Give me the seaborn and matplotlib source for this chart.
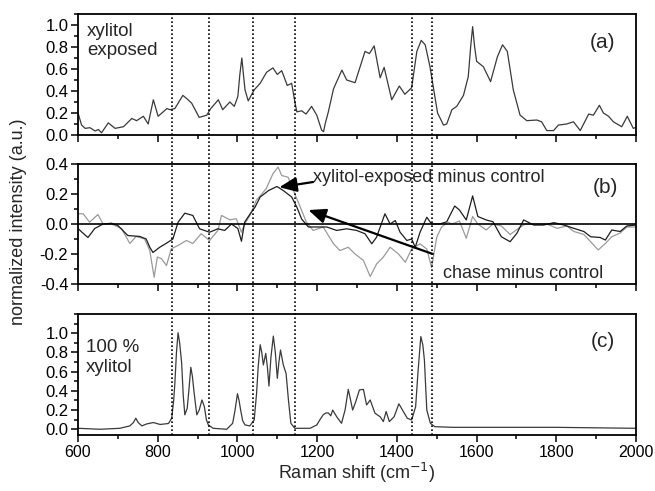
import matplotlib
matplotlib.use("Agg")
import matplotlib.pyplot as plt
import matplotlib.transforms as mtransforms
from matplotlib.lines import Line2D
from matplotlib.ticker import MultipleLocator, FormatStrFormatter
import seaborn as sns

# panel (a): xylitol exposed spectrum
a_x = [600, 609, 618, 630, 643, 651, 659, 676, 693, 714, 735, 747, 764, 776, 789, 801,
       823, 831, 843, 863, 873, 885, 904, 923, 933, 952, 963, 981, 992, 1001, 1006, 1011,
       1015, 1019, 1027, 1042, 1057, 1073, 1089, 1100, 1111, 1125, 1136, 1144, 1149, 1161,
       1172, 1186, 1199, 1211, 1216, 1220, 1228, 1241, 1262, 1274, 1295, 1320, 1331, 1343,
       1358, 1368, 1387, 1406, 1420, 1437, 1450, 1461, 1471, 1483, 1502, 1517, 1525, 1538,
       1550, 1567, 1579, 1585, 1590, 1595, 1600, 1617, 1635, 1652, 1665, 1677, 1692, 1709,
       1726, 1751, 1763, 1776, 1793, 1805, 1826, 1843, 1860, 1881, 1893, 1908, 1918, 1931,
       1943, 1964, 1978, 1993, 2000]
a_y = [0.20, 0.09, 0.06, 0.066, 0.036, 0.05, 0.02, 0.11, 0.06, 0.075, 0.15, 0.13, 0.17, 0.10,
       0.32, 0.17, 0.24, 0.23, 0.24, 0.36, 0.33, 0.29, 0.16, 0.18, 0.24, 0.32, 0.23, 0.30,
       0.26, 0.35, 0.55, 0.70, 0.55, 0.41, 0.31, 0.41, 0.47, 0.57, 0.61, 0.55, 0.585, 0.45,
       0.47, 0.30, 0.21, 0.22, 0.19, 0.26, 0.18, 0.045, 0.03, 0.10, 0.21, 0.42, 0.59, 0.50,
       0.475, 0.76, 0.74, 0.81, 0.52, 0.615, 0.32, 0.445, 0.37, 0.43, 0.76, 0.86, 0.82, 0.62,
       0.20, 0.09, 0.10, 0.23, 0.26, 0.36, 0.53, 0.80, 0.985, 0.80, 0.67, 0.62, 0.485, 0.71,
       0.82, 0.76, 0.41, 0.18, 0.13, 0.136, 0.12, 0.04, 0.04, 0.09, 0.10, 0.12, 0.04, 0.19,
       0.18, 0.27, 0.20, 0.17, 0.12, 0.075, 0.17, 0.06, 0.07]

# panel (b): difference spectra
b1_x = [600, 612, 625, 642, 663, 684, 700, 725, 755, 771, 780, 788, 805, 822, 838, 851, 868,
        888, 905, 930, 951, 968, 985, 1001, 1010, 1018, 1032, 1044, 1057, 1078, 1099, 1115,
        1136, 1149, 1161, 1178, 1199, 1224, 1249, 1274, 1299, 1320, 1337, 1349, 1370, 1383,
        1396, 1408, 1425, 1437, 1446, 1458, 1475, 1487, 1508, 1525, 1545, 1557, 1574, 1590,
        1603, 1624, 1641, 1662, 1684, 1701, 1718, 1743, 1768, 1794, 1819, 1844, 1869, 1886,
        1910, 1923, 1939, 1960, 1977, 2000]
b1_y = [-0.03, -0.06, -0.09, -0.03, 0.0, 0.005, -0.01, -0.077, -0.083, -0.10, -0.155, -0.19,
        -0.155, -0.128, -0.10, 0.012, 0.072, 0.057, -0.032, -0.055, -0.032, -0.043, 0.0, -0.03,
        -0.115, 0.012, 0.068, 0.112, 0.18, 0.223, 0.25, 0.223, 0.18, 0.112, 0.033, -0.02,
        -0.02, -0.02, -0.043, -0.032, -0.043, -0.065, -0.132, -0.088, 0.068, 0.0, 0.023,
        -0.055, -0.11, -0.10, -0.155, -0.055, 0.045, 0.0, 0.0, 0.015, 0.12, 0.093, 0.027,
        0.187, 0.05, 0.027, 0.015, -0.085, -0.118, -0.062, 0.027, -0.007, -0.007, 0.009,
        -0.007, -0.029, -0.05, -0.085, -0.09, -0.107, -0.04, -0.05, -0.013, -0.007]
b2_x = [600, 613, 629, 650, 663, 684, 709, 730, 746, 767, 780, 791, 799, 809, 822, 834, 851,
        872, 888, 909, 930, 951, 960, 981, 997, 1010, 1018, 1032, 1047, 1072, 1089, 1102,
        1111, 1127, 1144, 1161, 1173, 1190, 1215, 1241, 1257, 1278, 1295, 1316, 1333, 1349,
        1366, 1383, 1404, 1421, 1437, 1458, 1475, 1487, 1500, 1512, 1529, 1538, 1557, 1574,
        1590, 1603, 1624, 1641, 1662, 1684, 1705, 1722, 1751, 1776, 1802, 1826, 1844, 1869,
        1886, 1905, 1923, 1939, 1960, 1977, 2000]
b2_y = [0.068, 0.068, 0.012, 0.063, 0.0, 0.0, -0.03, -0.13, -0.083, -0.10, -0.177, -0.355,
        -0.22, -0.23, -0.277, -0.165, -0.143, -0.11, -0.13, -0.065, -0.11, -0.043, 0.057,
        0.028, 0.035, -0.055, 0.0, 0.06, 0.157, 0.235, 0.335, 0.38, 0.323, 0.312, 0.2, 0.09,
        0.012, -0.043, -0.02, -0.132, -0.177, -0.155, -0.2, -0.243, -0.35, -0.267, -0.22,
        -0.155, -0.2, -0.255, -0.167, -0.132, -0.167, -0.29, -0.088, -0.02, 0.012, 0.0, 0.02,
        -0.095, 0.05, 0.0, -0.04, 0.0, -0.013, -0.07, -0.029, 0.0, 0.0, 0.0, -0.029, -0.013,
        -0.05, -0.07, -0.118, -0.173, -0.13, -0.085, -0.06, -0.02, -0.02]

# panel (c): 100 % xylitol reference
c_x = [600, 655, 705, 730, 739, 745, 751, 760, 772, 789, 806, 827, 835, 840, 843, 847, 851,
       855, 860, 864, 868, 874, 878, 883, 887, 891, 898, 904, 911, 917, 922, 927, 939, 973,
       988, 994, 1000, 1004, 1008, 1013, 1019, 1031, 1042, 1048, 1052, 1057, 1061, 1065,
       1071, 1075, 1079, 1084, 1090, 1095, 1100, 1104, 1108, 1115, 1122, 1128, 1134, 1144,
       1182, 1199, 1207, 1215, 1222, 1228, 1234, 1239, 1249, 1261, 1270, 1278, 1284, 1289,
       1297, 1306, 1316, 1324, 1333, 1345, 1358, 1366, 1373, 1381, 1393, 1405, 1414, 1426,
       1437, 1447, 1453, 1460, 1465, 1469, 1475, 1484, 1495, 1541, 1700, 1800, 1900, 2000]
c_y = [0.01, 0.0, 0.01, 0.035, 0.07, 0.115, 0.07, 0.035, 0.055, 0.07, 0.05, 0.06, 0.115, 0.30,
       0.48, 0.80, 1.005, 0.90, 0.69, 0.35, 0.15, 0.22, 0.40, 0.645, 0.55, 0.39, 0.15, 0.20,
       0.305, 0.235, 0.10, 0.045, 0.01, 0.0, 0.062, 0.20, 0.37, 0.30, 0.2, 0.09, 0.045, 0.035,
       0.097, 0.375, 0.65, 0.88, 0.80, 0.67, 0.79, 0.65, 0.45, 0.75, 0.97, 0.80, 0.53, 0.70,
       0.825, 0.67, 0.58, 0.30, 0.062, 0.01, 0.01, 0.045, 0.10, 0.15, 0.17, 0.17, 0.14, 0.2,
       0.13, 0.062, 0.2, 0.415, 0.30, 0.2, 0.29, 0.41, 0.415, 0.253, 0.305, 0.167, 0.13, 0.08,
       0.185, 0.08, 0.13, 0.265, 0.2, 0.115, 0.097, 0.235, 0.60, 0.965, 0.88, 0.72, 0.2, 0.062,
       0.027, 0.02, 0.02, 0.02, 0.015, 0.01]

band_x = [837, 929, 1040, 1144, 1438, 1488]

sns.set_theme(style="ticks")
plt.rcParams['font.family'] = ['Liberation Sans', 'DejaVu Sans']

fig = plt.figure(figsize=(6.55, 4.91), dpi=100)
L, W = 0.1191, 0.852
ax_a = fig.add_axes([L, 0.7251, W, 0.2464])
ax_b = fig.add_axes([L, 0.4216, W, 0.2444])
ax_c = fig.add_axes([L, 0.114, W, 0.2465])

sns.lineplot(x=a_x, y=a_y, ax=ax_a, color='#3a3a3a', lw=0.9, sort=False)
sns.lineplot(x=b2_x, y=b2_y, ax=ax_b, color='#9a9a9a', lw=0.9, sort=False)
sns.lineplot(x=b1_x, y=b1_y, ax=ax_b, color='#1e1e1e', lw=0.9, sort=False)
sns.lineplot(x=c_x, y=c_y, ax=ax_c, color='#3a3a3a', lw=0.9, sort=False)
ax_b.axhline(0, color='black', lw=1.2)

ylims = {ax_a: (0, 1.1), ax_b: (-0.4, 0.4), ax_c: (-0.06, 1.2)}
for ax in (ax_a, ax_b, ax_c):
    ax.set_xlim(600, 2000)
    ax.set_ylim(*ylims[ax])
    ax.xaxis.set_major_locator(MultipleLocator(200))
    ax.xaxis.set_minor_locator(MultipleLocator(100))
    ax.yaxis.set_major_locator(MultipleLocator(0.2))
    ax.yaxis.set_minor_locator(MultipleLocator(0.1))
    ax.tick_params(which='both', direction='out', color='black', width=1.1,
                   labelcolor='black', pad=2)
    ax.tick_params(axis='x', labelsize=11.5)
    ax.tick_params(axis='y', labelsize=12)
    ax.tick_params(which='major', length=5)
    ax.tick_params(which='minor', length=3)
    for s in ax.spines.values():
        s.set_visible(True)
        s.set_color('black')
        s.set_linewidth(1.3)
    ax.set_xlabel('')
    ax.set_ylabel('')
    ax.yaxis.set_major_formatter(FormatStrFormatter('%.1f'))
for ax in (ax_a, ax_b):
    ax.tick_params(labelbottom=False)
ax_a.set_yticks([0.0, 0.2, 0.4, 0.6, 0.8, 1.0])
ax_c.set_yticks([0.0, 0.2, 0.4, 0.6, 0.8, 1.0])

# dotted band markers running through all three panels
trans = mtransforms.blended_transform_factory(ax_c.transData, fig.transFigure)
for bx in band_x:
    fig.add_artist(Line2D([bx, bx], [0.114, 0.9715], transform=trans, color='black',
                          lw=1.2, linestyle=(0, (1, 1.4))))

ax_a.text(623, 0.855, 'xylitol\nexposed', fontsize=13.5, va='center', ha='left')
ax_a.text(1917, 0.84, '(a)', fontsize=15, va='center', ha='center')
ax_b.text(1922, 0.24, '(b)', fontsize=15, va='center', ha='center')
ax_c.text(1917, 0.91, '(c)', fontsize=15, va='center', ha='center')
ax_c.text(620, 0.75, '100 %\nxylitol', fontsize=13.5, va='center', ha='left')

arrow = dict(arrowstyle='-|>,head_length=0.75,head_width=0.32', mutation_scale=14,
             lw=1.6, color='black', shrinkA=0, shrinkB=0)
ax_b.annotate('', xy=(1105, 0.245), xytext=(1190, 0.28), arrowprops=arrow)
ax_b.text(1190, 0.31, 'xylitol-exposed minus control', fontsize=13, va='center', ha='left')
ax_b.annotate('', xy=(1178, 0.093), xytext=(1490, -0.2), arrowprops=arrow)
ax_b.text(1516, -0.327, 'chase minus control', fontsize=13, va='center', ha='left')

fig.text(0.028, 0.548, 'normalized intensity (a.u.)', rotation=90, fontsize=13,
         va='center', ha='center')
fig.text(0.545, 0.036, 'Raman shift (cm$^{-1}$)', fontsize=13, va='center', ha='center')

fig.savefig('out.png', dpi=100)
